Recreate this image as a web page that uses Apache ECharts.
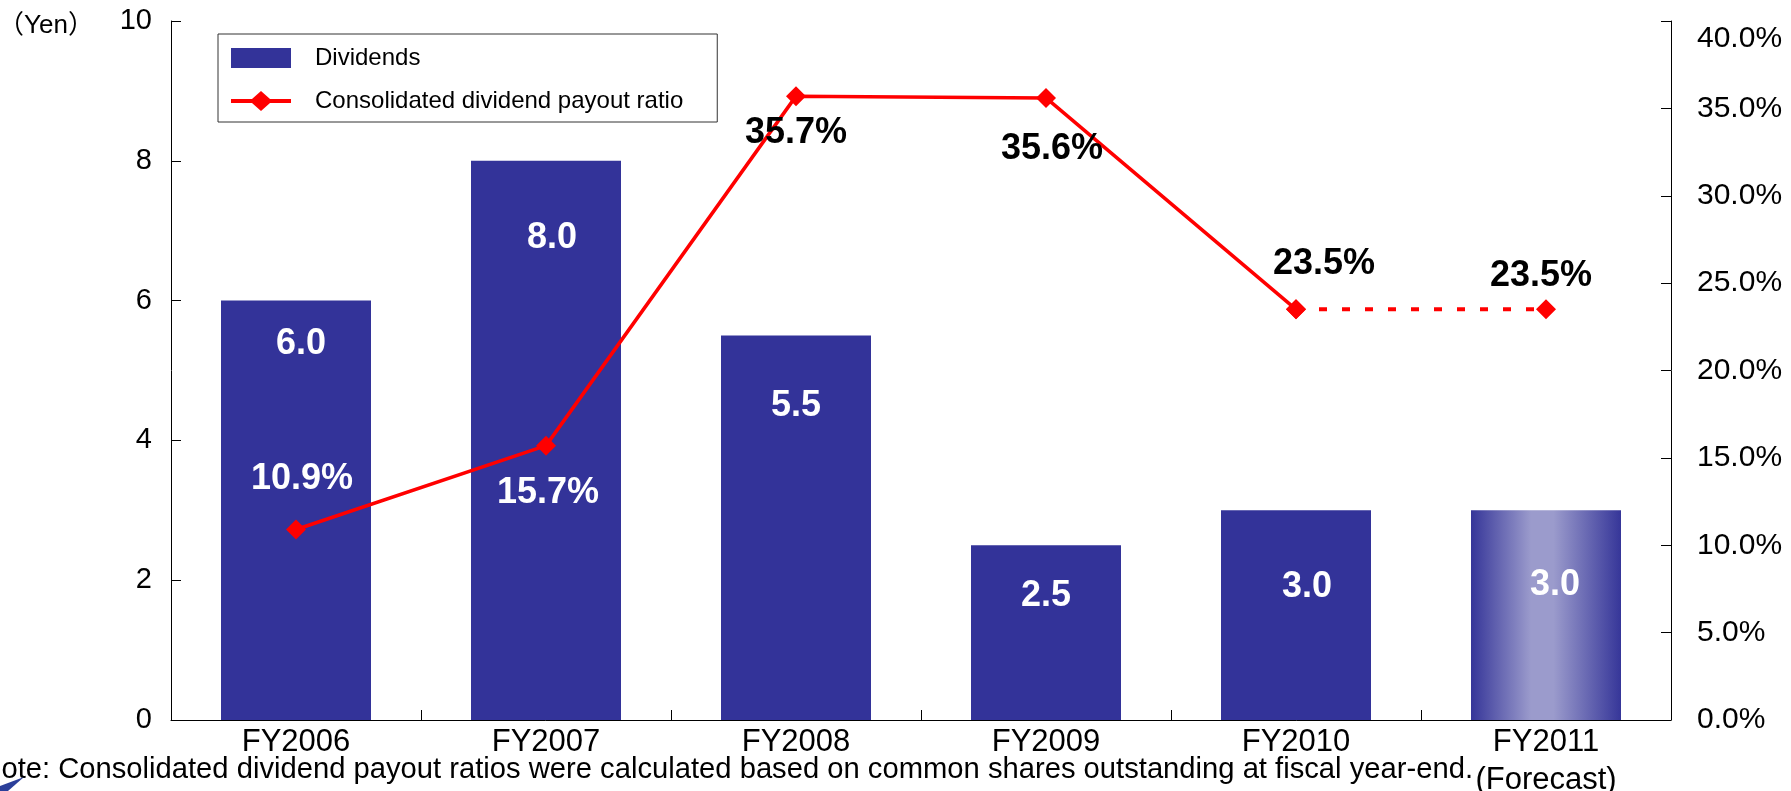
<!DOCTYPE html>
<html>
<head>
<meta charset="utf-8">
<script src="https://cdn.jsdelivr.net/npm/echarts@6/dist/echarts.min.js"></script>
<style>
  html, body { margin: 0; padding: 0; background: #fff; }
  #chart { width: 1791px; height: 791px; }
</style>
</head>
<body>
<div id="chart"></div>
<script>
// Fiscal years shown on the category axis
const categories = ['FY2006', 'FY2007', 'FY2008', 'FY2009', 'FY2010', 'FY2011\n(Forecast)'];
// Annual dividend per share (yen)
const dividends = [6.0, 8.0, 5.5, 2.5, 3.0, 3.0];
// Consolidated dividend payout ratio (%)
const payoutRatio = [10.9, 15.7, 35.7, 35.6, 23.5, 23.5];
// Index of the forecast year
const forecastIndex = 5;
// Axis scales
const yenAxis = { min: 0, max: 10, interval: 2 };
const ratioAxis = { min: 0, max: 40, interval: 5 };
// Text
const yenUnit = '（Yen）';
const barName = 'Dividends';
const ratioName = 'Consolidated dividend payout ratio';
const noteText = 'Note: Consolidated dividend payout ratios were calculated based on common shares outstanding at fiscal year-end.';

// Label placement: [dx, dy] of bar label centre from bar top centre
const barLabelOffset = [[5, 43], [6, 77], [0, 71], [0, 51], [11, 77], [9, 75]];
// Label placement: [dx, dy] of ratio label centre from its marker
const ratioLabelOffset = [[6, -50], [2, 47], [0, 37], [6, 51], [28, -45], [-5, -33]];
const ratioLabelColor = ['#ffffff', '#ffffff', '#000000', '#000000', '#000000', '#000000'];

const FONT = '"Liberation Sans", Arial, Helvetica, sans-serif';
const BAR_COLOR = '#333399';
const RED = '#ff0000';

// Legend glyph for the ratio line: a thick stroke with a diamond in the middle (60 x 20 box)
const LINE_DIAMOND_ICON = 'path://M0,8 L21,8 L30,0 L39,8 L60,8 L60,12 L39,12 L30,20 L21,12 L0,12 Z';

const forecastFill = {
  type: 'linear', x: 0, y: 0, x2: 1, y2: 0,
  colorStops: [
    { offset: 0, color: '#363699' },
    { offset: 0.4, color: '#9b9bcc' },
    { offset: 0.55, color: '#9b9bcc' },
    { offset: 1, color: '#363699' }
  ]
};

const barData = dividends.map((v, i) => ({
  value: v,
  itemStyle: i === forecastIndex ? { color: forecastFill } : { color: BAR_COLOR },
  label: {
    position: ['50%', barLabelOffset[i][1]],
    offset: [barLabelOffset[i][0], 0]
  }
}));

function ratioItem(i, showLabel) {
  return {
    value: payoutRatio[i],
    label: {
      show: showLabel,
      offset: ratioLabelOffset[i],
      color: ratioLabelColor[i]
    }
  };
}

const actualRatio = payoutRatio.map((v, i) => i < forecastIndex ? ratioItem(i, true) : '-');
const forecastRatio = payoutRatio.map((v, i) => i >= forecastIndex - 1 ? ratioItem(i, i === forecastIndex) : '-');

const ratioLabel = {
  show: true,
  position: 'inside',
  fontFamily: FONT,
  fontSize: 36,
  fontWeight: 'bold',
  align: 'center',
  verticalAlign: 'middle',
  formatter: p => Number(p.value).toFixed(1) + '%'
};

const chart = echarts.init(document.getElementById('chart'), null, { renderer: 'canvas' });

chart.setOption({
  animation: false,
  backgroundColor: '#ffffff',
  textStyle: { fontFamily: FONT },
  grid: {
    left: 171, right: 120, top: 21, bottom: 71,
    containLabel: false,
    outerBoundsMode: 'none'
  },
  legend: {
    data: [
      { name: barName, icon: 'rect' },
      { name: ratioName, icon: LINE_DIAMOND_ICON }
    ],
    orient: 'vertical',
    left: 218,
    top: 34,
    padding: [12, 34, 9, 13],
    itemWidth: 60,
    itemHeight: 20,
    itemGap: 19,
    borderColor: '#333333',
    borderWidth: 1,
    backgroundColor: '#ffffff',
    selectedMode: false,
    textStyle: {
      fontFamily: FONT,
      fontSize: 24,
      lineHeight: 24,
      color: '#000000',
      padding: [0, 0, 0, 19]
    }
  },
  xAxis: {
    type: 'category',
    data: categories,
    boundaryGap: true,
    axisLine: { show: true, lineStyle: { color: '#000000', width: 1 } },
    axisTick: { show: true, inside: true, length: 10, alignWithLabel: false, lineStyle: { color: '#000000' } },
    axisLabel: {
      fontFamily: FONT,
      fontSize: 31,
      lineHeight: 38,
      color: '#000000',
      margin: 3,
      interval: 0
    },
    splitLine: { show: false }
  },
  yAxis: [
    {
      type: 'value',
      position: 'left',
      min: yenAxis.min, max: yenAxis.max, interval: yenAxis.interval,
      axisLine: { show: true, lineStyle: { color: '#000000', width: 1 } },
      axisTick: { show: true, inside: true, length: 10, lineStyle: { color: '#000000' } },
      axisLabel: {
        fontFamily: FONT, fontSize: 29, color: '#000000', margin: 19,
        showMinLabel: true, showMaxLabel: true,
        formatter: v => String(v)
      },
      splitLine: { show: false }
    },
    {
      type: 'value',
      position: 'right',
      min: ratioAxis.min, max: ratioAxis.max, interval: ratioAxis.interval,
      axisLine: { show: true, lineStyle: { color: '#000000', width: 1 } },
      axisTick: { show: true, inside: true, length: 10, lineStyle: { color: '#000000' } },
      axisLabel: {
        fontFamily: FONT, fontSize: 30, color: '#000000', margin: 26,
        showMinLabel: true, showMaxLabel: true,
        formatter: v => v === ratioAxis.max ? '{top|' + v.toFixed(1) + '%}' : v.toFixed(1) + '%',
        rich: {
          top: { fontFamily: FONT, fontSize: 30, color: '#000000', padding: [36, 0, 0, 0] }
        }
      },
      splitLine: { show: false }
    }
  ],
  series: [
    {
      name: barName,
      type: 'bar',
      yAxisIndex: 0,
      barWidth: '60%',
      data: barData,
      itemStyle: { color: BAR_COLOR },
      label: {
        show: true,
        fontFamily: FONT,
        fontSize: 36,
        fontWeight: 'bold',
        color: '#ffffff',
        align: 'center',
        verticalAlign: 'middle',
        formatter: p => Number(p.value).toFixed(1)
      },
      z: 2
    },
    {
      name: ratioName,
      type: 'line',
      yAxisIndex: 1,
      data: actualRatio,
      symbol: 'diamond',
      symbolSize: 20,
      itemStyle: { color: RED },
      lineStyle: { color: RED, width: 3.5 },
      label: ratioLabel,
      z: 4
    },
    {
      name: ratioName + ' (forecast)',
      type: 'line',
      yAxisIndex: 1,
      data: forecastRatio,
      symbol: 'diamond',
      symbolSize: 20,
      itemStyle: { color: RED },
      lineStyle: { color: RED, width: 4, type: [8, 15] },
      label: ratioLabel,
      z: 4
    }
  ],
  graphic: [
    {
      type: 'text',
      left: -2,
      top: 13,
      style: { text: yenUnit, fontFamily: '"Liberation Sans", "Noto Sans CJK JP", sans-serif', fontSize: 26, fill: '#000000' }
    },
    {
      type: 'text',
      x: 1473,
      y: 770,
      style: {
        text: noteText,
        fontFamily: FONT,
        fontSize: 29.2,
        fill: '#000000',
        align: 'right',
        verticalAlign: 'middle'
      }
    },
    {
      type: 'polygon',
      shape: { points: [[0, 791], [0, 786], [24, 777], [8, 791]] },
      style: { fill: '#2b3f9a' }
    }
  ]
});
</script>
</body>
</html>
